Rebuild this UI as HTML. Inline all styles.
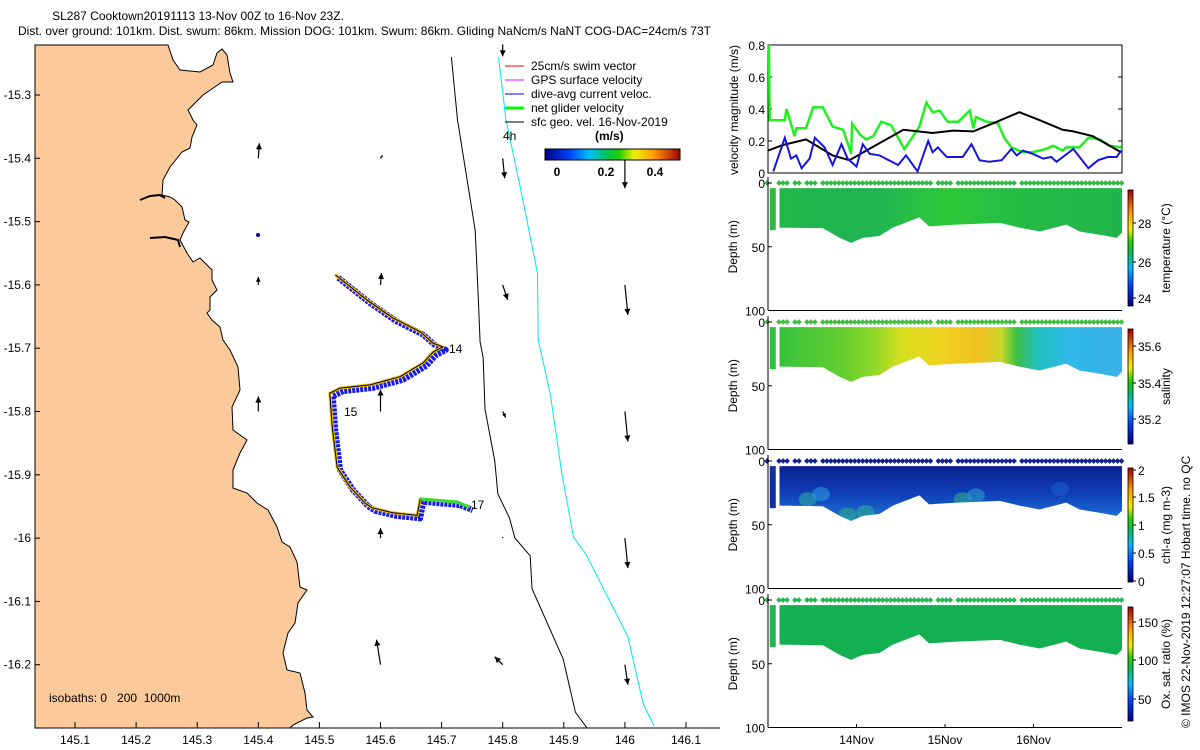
<!DOCTYPE html>
<html><head><meta charset="utf-8"><style>
html,body{margin:0;padding:0;background:#fff;overflow:hidden;width:1200px;height:750px;}
svg{display:block;font-family:"Liberation Sans",sans-serif;}
text{fill:#000;white-space:pre;}
</style></head><body>
<svg id="fig" width="1200" height="750" viewBox="0 0 1200 750" xmlns="http://www.w3.org/2000/svg">
<defs>
<linearGradient id="jet" x1="0" y1="0" x2="1" y2="0">
<stop offset="0" stop-color="#000080"/><stop offset="0.18" stop-color="#0040FF"/><stop offset="0.33" stop-color="#00C0FF"/><stop offset="0.45" stop-color="#00C060"/><stop offset="0.55" stop-color="#20D000"/><stop offset="0.66" stop-color="#F0F000"/><stop offset="0.8" stop-color="#FFA000"/><stop offset="1" stop-color="#A00000"/>
</linearGradient>
<linearGradient id="jetv" x1="0" y1="1" x2="0" y2="0">
<stop offset="0" stop-color="#000080"/><stop offset="0.18" stop-color="#0040FF"/><stop offset="0.33" stop-color="#00C0FF"/><stop offset="0.45" stop-color="#00C060"/><stop offset="0.55" stop-color="#20D000"/><stop offset="0.66" stop-color="#F0F000"/><stop offset="0.8" stop-color="#FFA000"/><stop offset="1" stop-color="#A00000"/>
</linearGradient>
<linearGradient id="gTemp" x1="0" y1="0" x2="1" y2="0">
<stop offset="0" stop-color="#22B848"/><stop offset="0.3" stop-color="#20B454"/><stop offset="0.5" stop-color="#30C838"/><stop offset="0.7" stop-color="#24BC44"/><stop offset="1" stop-color="#22B44C"/>
</linearGradient>
<linearGradient id="gSal" x1="0" y1="0" x2="1" y2="0">
<stop offset="0" stop-color="#30C040"/><stop offset="0.2" stop-color="#60CC30"/><stop offset="0.3" stop-color="#90D828"/><stop offset="0.38" stop-color="#D8E020"/><stop offset="0.5" stop-color="#F0D020"/><stop offset="0.6" stop-color="#F0C020"/><stop offset="0.66" stop-color="#C8D828"/><stop offset="0.7" stop-color="#40C040"/><stop offset="0.76" stop-color="#20C0C0"/><stop offset="0.85" stop-color="#30B8E8"/><stop offset="1" stop-color="#38B0E8"/>
</linearGradient>
<linearGradient id="gChl" x1="0" y1="0" x2="0" y2="1">
<stop offset="0" stop-color="#0A1E90"/><stop offset="0.5" stop-color="#1040B8"/><stop offset="1" stop-color="#2080E0"/>
</linearGradient>
<clipPath id="clipTemp"><path id="cpT"/></clipPath>
<clipPath id="clipSal"><path id="cpS"/></clipPath>
<clipPath id="clipChl"><path id="cpC"/></clipPath>
<clipPath id="clipOx"><path id="cpO"/></clipPath>
</defs>

<text x="198" y="20" font-size="12" text-anchor="middle">SL287 Cooktown20191113 13-Nov 00Z to 16-Nov 23Z.</text>
<text x="18" y="35" font-size="12">Dist. over ground: 101km. Dist. swum: 86km. Mission DOG: 101km. Swum: 86km. Gliding NaNcm/s NaNT COG-DAC=24cm/s 73T</text>

<g id="map">
<path fill="#FCCA9A" stroke="#000" stroke-width="1" d="M35,45 L168,45 L173,60 L180,70 L200,72 L213,65 L217,53 L222,49 L227,55 L230,73 L233,82 L222,82 L203,95 L188,110 L193,120 L197,125 L192,137 L190,148 L182,152 L170,167 L163,180 L162,195 L170,197 L175,200 L182,207 L185,220 L189,222 L183,233 L180,240 L187,253 L193,262 L200,258 L212,270 L212,280 L217,290 L210,297 L210,310 L207,313 L212,320 L220,327 L223,340 L230,350 L238,367 L240,390 L232,407 L233,430 L247,440 L240,453 L233,470 L233,488 L247,493 L257,503 L268,510 L277,527 L282,542 L290,547 L297,562 L300,587 L307,590 L298,603 L295,623 L288,633 L283,653 L287,670 L300,673 L305,693 L307,710 L313,717 L307,718 L293,725 L290,728 L35,728 Z"/>
<path d="M140,200 L150,196 L160,195 L165,198" stroke="#000" stroke-width="2" fill="none"/>
<path d="M150,238 L165,237 L178,240 L180,247" stroke="#000" stroke-width="2" fill="none"/>
<g id="isobaths"></g>
<g id="geoArrows"></g>
<g id="track"></g>
<text x="449" y="353" font-size="12">14</text>
<text x="344" y="416" font-size="12">15</text>
<text x="471" y="509" font-size="12">17</text>
<g id="mapAxes"></g>
<text x="49" y="702" font-size="12" xml:space="preserve">isobaths: 0   200  1000m</text>
<g font-size="12">
<line x1="505" y1="66" x2="524" y2="66" stroke="#f00"/><text x="531" y="70">25cm/s swim vector</text>
<line x1="505" y1="80" x2="524" y2="80" stroke="#f0f"/><text x="531" y="84">GPS surface velocity</text>
<line x1="505" y1="94" x2="524" y2="94" stroke="#00f"/><text x="531" y="98">dive-avg current veloc.</text>
<line x1="505" y1="108" x2="524" y2="108" stroke="#0f0" stroke-width="3"/><text x="531" y="112">net glider velocity</text>
<line x1="505" y1="122" x2="524" y2="122" stroke="#000"/><text x="531" y="126">sfc geo. vel. 16-Nov-2019</text>
<text x="503" y="140">4h</text>
<text x="595" y="140" font-weight="bold" font-size="12">(m/s)</text>
<rect x="545" y="149" width="135" height="11" fill="url(#jet)" stroke="#000" stroke-width="1"/>
<text x="557" y="176" font-weight="bold" text-anchor="middle">0</text>
<text x="606" y="176" font-weight="bold" text-anchor="middle">0.2</text>
<text x="655" y="176" font-weight="bold" text-anchor="middle">0.4</text>
</g>
</g>

<g id="vel"></g>
<g id="sections"></g>
<text font-size="12" transform="translate(1190,728) rotate(-90)">© IMOS 22-Nov-2019 12:27:07 Hobart time. no QC</text>
</svg>
<script>
const greenDays=[13.01,13.02,13.19,13.21,13.30,13.32,13.43,13.51,13.62,13.73,13.85,13.94,13.95,14.04,14.11,14.19,14.28,14.39,14.54,14.64,14.71,14.79,14.86,14.94,15.03,15.15,15.28,15.32,15.35,15.47,15.60,15.67,15.75,15.88,15.99,16.14,16.22,16.33,16.37,16.52,16.62,16.75,16.86,16.99];
const greenVals=[0.8,0.33,0.33,0.4,0.23,0.28,0.28,0.41,0.41,0.29,0.27,0.12,0.31,0.24,0.21,0.23,0.32,0.3,0.15,0.23,0.29,0.44,0.38,0.39,0.32,0.32,0.39,0.28,0.35,0.32,0.31,0.22,0.16,0.13,0.13,0.15,0.17,0.14,0.16,0.16,0.22,0.21,0.17,0.16];
const blueDays=[13.06,13.19,13.26,13.32,13.38,13.47,13.53,13.64,13.73,13.83,13.90,14.00,14.07,14.15,14.26,14.47,14.56,14.69,14.81,14.86,14.92,15.02,15.20,15.30,15.39,15.50,15.64,15.75,15.81,15.88,15.99,16.11,16.20,16.26,16.45,16.62,16.73,16.84,16.94,16.99];
const blueVals=[0.01,0.22,0.09,0.11,0.03,0.09,0.22,0.16,0.05,0.18,0.09,0.04,0.18,0.12,0.11,0.05,0.11,0.01,0.2,0.13,0.16,0.1,0.1,0.18,0.08,0.07,0.08,0.15,0.11,0.14,0.12,0.09,0.1,0.07,0.15,0.03,0.08,0.1,0.1,0.14];
const blackDays=[13.00,13.17,13.43,13.73,13.92,14.19,14.53,14.86,15.09,15.32,15.54,15.84,16.07,16.33,16.45,16.67,16.99];
const blackVals=[0.14,0.175,0.21,0.11,0.08,0.165,0.27,0.25,0.265,0.26,0.31,0.38,0.33,0.27,0.26,0.23,0.13];
const velTicks=[0,0.2,0.4,0.6,0.8];
const dayTicks=[14,15,16];
const dayTickLabels=["14Nov","15Nov","16Nov"];
const bottomDays=[13.13,13.62,13.81,13.94,14.07,14.26,14.41,14.71,14.82,15.13,15.62,15.84,16.07,16.37,16.52,16.78,16.94,17.0];
const bottomDepth=[35,35.5,43,47,43,41.6,35,27,34,32.6,31.3,35,38,32.6,38,41,43,39];
const depthTicks=[0,50,100];
const trackLon=[145.526,145.578,145.620,145.665,145.686,145.702,145.686,145.670,145.632,145.583,145.534,145.517,145.521,145.529,145.550,145.575,145.586,145.620,145.660,145.665,145.725,145.746];
const trackLat=[-15.584,-15.624,-15.652,-15.674,-15.692,-15.698,-15.706,-15.723,-15.745,-15.758,-15.763,-15.771,-15.824,-15.888,-15.919,-15.945,-15.952,-15.960,-15.964,-15.938,-15.943,-15.951];
const geoLon=[145.4,145.6,145.8,146.0,145.4,145.6,145.8,146.0,145.4,145.6,145.8,146.0,145.6,145.8,146.0,145.6,145.8,146.0,145.8];
const geoLat=[-15.4,-15.4,-15.4,-15.4,-15.6,-15.6,-15.6,-15.6,-15.8,-15.8,-15.8,-15.8,-16.0,-16.0,-16.0,-16.2,-16.2,-16.2,-15.22];
const geoU=[0.01,0.02,0.02,0,0,0.01,0.05,0.03,0,0,0.03,0.03,0,0,0.03,-0.04,-0.08,0.03,0];
const geoV=[0.15,0.03,-0.2,-0.3,0.08,0.12,-0.15,-0.3,0.15,0.22,-0.06,-0.3,0.1,0.01,-0.3,0.25,0.08,-0.2,-0.12];
const iso200Lon=[145.716,145.726,145.755,145.760,145.763,145.768,145.771,145.787,145.792,145.811,145.820,145.845,145.848,145.899,145.919,145.938];
const iso200Lat=[-15.24,-15.339,-15.514,-15.620,-15.690,-15.715,-15.796,-15.878,-15.930,-15.968,-16.000,-16.028,-16.080,-16.191,-16.275,-16.300];
const iso1000Lon=[145.793,145.800,145.805,145.832,145.857,145.858,145.878,145.897,145.916,145.936,146.005,146.030,146.048];
const iso1000Lat=[-15.240,-15.295,-15.337,-15.461,-15.582,-15.686,-15.773,-15.899,-15.999,-16.025,-16.156,-16.262,-16.297];
const lonTicks=[145.1,145.2,145.3,145.4,145.5,145.6,145.7,145.8,145.9,146,146.1];
const latTicks=[-15.3,-15.4,-15.5,-15.6,-15.7,-15.8,-15.9,-16,-16.1,-16.2];

const NS="http://www.w3.org/2000/svg";
const lonX=lon=>75+(lon-145.1)*611;
const latY=lat=>95+(-15.3-lat)*633;
const dayX=d=>768+(d-13)*88.5;
const velY=v=>173-v*160;
function mk(tag,attrs,parent){const e=document.createElementNS(NS,tag);for(const k in attrs)e.setAttribute(k,attrs[k]);parent.appendChild(e);return e;}

const iso=document.getElementById('isobaths');
let p1=mk('polyline',{points:iso200Lon.map((l,i)=>lonX(l)+','+latY(iso200Lat[i])).join(' '),fill:'none',stroke:'#000','stroke-width':1},iso);


let p2=mk('polyline',{points:iso1000Lon.map((l,i)=>lonX(l)+','+latY(iso1000Lat[i])).join(' '),fill:'none',stroke:'#00E5EE','stroke-width':1},iso);



const ga=document.getElementById('geoArrows');
geoLon.forEach((lon,i)=>{
  const x0=lonX(lon),y0=latY(geoLat[i]);const x1=x0+geoU[i]*100,y1=y0-geoV[i]*100;
  const g=mk('g',{},ga);
  
  
  mk('line',{x1:x0,y1:y0,x2:x1,y2:y1,stroke:'#000','stroke-width':1.2},g);
  const dx=x1-x0,dy=y1-y0,L=Math.hypot(dx,dy)||1,ux=dx/L,uy=dy/L,h=Math.min(6,L*0.6);
  mk('polygon',{points:`${x1},${y1} ${x1-ux*h-uy*h*0.5},${y1-uy*h+ux*h*0.5} ${x1-ux*h+uy*h*0.5},${y1-uy*h-ux*h*0.5}`,fill:'#000'},g);
});
const bd=mk('circle',{cx:258,cy:235,r:2,fill:'#00008F'},ga);



const tr=document.getElementById('track');
const tpts=trackLon.map((l,i)=>lonX(l)+','+latY(trackLat[i])).join(' ');
let tb=mk('polyline',{points:tpts,fill:'none',stroke:'#1818F0','stroke-width':6,'stroke-linejoin':'round','stroke-dasharray':'3 1',transform:'translate(3,3)'},tr);


let ty=mk('polyline',{points:tpts,fill:'none',stroke:'#F0C000','stroke-width':3,'stroke-linejoin':'round'},tr);


let tk=mk('polyline',{points:tpts,fill:'none',stroke:'#000','stroke-width':1},tr);


let tg=mk('polyline',{points:trackLon.slice(-3).map((l,i)=>lonX(l)+','+latY(trackLat[trackLat.length-3+i])).join(' '),fill:'none',stroke:'#30E030','stroke-width':3},tr);



const ma=document.getElementById('mapAxes');
mk('line',{x1:35,y1:728,x2:720,y2:728,stroke:'#000'},ma);
lonTicks.forEach(l=>{const x=lonX(l);mk('line',{x1:x,y1:728,x2:x,y2:722,stroke:'#000'},ma);
  const t=mk('text',{x:x,y:744,'font-size':12,'text-anchor':'middle'},ma);t.textContent=String(l);
  
  });
latTicks.forEach(l=>{const y=latY(l);mk('line',{x1:35,y1:y,x2:40,y2:y,stroke:'#000'},ma);
  const t=mk('text',{x:31,y:y+4,'font-size':12,'text-anchor':'end'},ma);t.textContent=String(l);
  
  });

const vel=document.getElementById('vel');
mk('rect',{x:768,y:45,width:354,height:128,fill:'none',stroke:'#000'},vel);
velTicks.forEach(v=>{const y=velY(v);mk('line',{x1:768,y1:y,x2:772,y2:y,stroke:'#000'},vel);mk('line',{x1:1122,y1:y,x2:1118,y2:y,stroke:'#000'},vel);
  const t=mk('text',{x:765,y:y+5,'font-size':12,'text-anchor':'end'},vel);t.textContent=v===0?'0':v.toFixed(1);
  
  });
function stepLine(days,vals,color,w,name,step){
  let pts=[];days.forEach((d,i)=>{if(step&&i>0)pts.push(dayX(d)+','+velY(vals[i-1]));pts.push(dayX(d)+','+velY(vals[i]));});
  const e=mk('polyline',{points:pts.join(' '),fill:'none',stroke:color,'stroke-width':w},vel);
  
  
}
stepLine(greenDays,greenVals,'#22EE22',2.5,'net-glider-velocity-line',false);
stepLine(blackDays,blackVals,'#000',2,'geostrophic-velocity-line',false);
stepLine(blueDays,blueVals,'#1515E0',2,'dive-avg-current-line',false);
const vl=mk('text',{'font-size':12,'text-anchor':'middle',transform:'translate(738,110) rotate(-90)'},vel);
vl.textContent='velocity magnitude (m/s)';



const sec=document.getElementById('sections');
const panels=[
 {top:183,fill:'url(#gTemp)',dot:'#30B840',clip:'cpT',cid:'clipTemp',name:'temperature',label:'temperature (°C)',cb:[190,306],ticks:[[28,223],[26,262],[24,298]]},
 {top:322,fill:'url(#gSal)',dot:'#40C040',clip:'cpS',cid:'clipSal',name:'salinity',label:'salinity',cb:[329,444],ticks:[[35.6,346],[35.4,383],[35.2,419]]},
 {top:461,fill:'url(#gChl)',dot:'#102090',clip:'cpC',cid:'clipChl',name:'chlorophyll',label:'chl-a (mg m-3)',cb:[468,582],ticks:[[2,470],[1.5,497],[1,525],[0.5,553],[0,581]]},
 {top:600,fill:'#12B050',dot:'#20B850',clip:'cpO',cid:'clipOx',name:'oxygen',label:'Ox. sat. ratio (%)',cb:[607,721],ticks:[[150,622],[100,660],[50,699]]}
];
const dotGaps=[[13.02,13.12],[13.23,13.28],[13.38,13.43],[13.55,13.62],[14.84,14.9],[15.08,15.12],[15.33,15.37],[15.79,15.85],[16.73,16.77]];
panels.forEach(P=>{
  const dY=dep=>P.top+dep*1.275;
  const g=mk('g',{},sec);
  
  
  let d=`M${dayX(bottomDays[0])},${dY(4)} L${dayX(17)},${dY(4)}`;
  for(let i=bottomDays.length-1;i>=0;i--)d+=` L${dayX(bottomDays[i])},${dY(bottomDepth[i])}`;
  d+=' Z';
  document.getElementById(P.clip).setAttribute('d',d);
  const r=mk('rect',{x:768,y:dY(3),width:354,height:60,fill:P.fill,'clip-path':`url(#${P.cid})`},g);
  
  
  if(P.name==='chlorophyll'){
    const cg=mk('g',{'clip-path':`url(#${P.cid})`},g);
    [[13.45,30,'#30B0A0'],[13.6,26,'#30A0E0'],[13.9,42,'#30B080'],[14.1,40,'#30B090'],[15.2,30,'#30B080'],[15.35,27,'#30A0D0'],[16.3,22,'#1860D0']].forEach(c=>{
      mk('ellipse',{cx:dayX(c[0]),cy:dY(c[1]),rx:9,ry:7,fill:c[2],opacity:0.55},cg);});
  }
  const fc=mk('rect',{x:dayX(13.02),y:dY(4),width:6,height:dY(37)-dY(4),fill:P.name==='chlorophyll'?'#1030A0':(P.name==='salinity'?'#30C040':P.dot)},g);
  
  
  for(let dd=12.99;dd<17.0;dd+=0.045){
    if(dotGaps.some(gp=>dd>gp[0]&&dd<gp[1]))continue;
    mk('rect',{x:dayX(dd)-2,y:P.top-2,width:4,height:4,fill:P.dot,transform:`rotate(45 ${dayX(dd)} ${P.top})`},g);
  }
  mk('line',{x1:768,y1:P.top-6,x2:768,y2:dY(100),stroke:'#000'},g);
  mk('line',{x1:768,y1:dY(100),x2:1122,y2:dY(100),stroke:'#000'},g);
  depthTicks.forEach(t=>{const y=dY(t);mk('line',{x1:768,y1:y,x2:772,y2:y,stroke:'#000'},g);
    const tx=mk('text',{x:765,y:y+5,'font-size':12,'text-anchor':'end'},g);tx.textContent=String(t);
    
    });
  const yl=mk('text',{'font-size':12,'text-anchor':'middle',transform:`translate(737,${dY(50)}) rotate(-90)`},g);
  yl.textContent='Depth (m)';
  
  
  const cb=mk('rect',{x:1128,y:P.cb[0],width:5,height:P.cb[1]-P.cb[0],fill:'url(#jetv)',stroke:'#000','stroke-width':0.8},g);
  
  
  P.ticks.forEach(t=>{mk('line',{x1:1133,y1:t[1],x2:1136,y2:t[1],stroke:'#000'},g);
    const tx=mk('text',{x:1138,y:t[1]+5,'font-size':12},g);tx.textContent=String(t[0]);
    
    });
  const cl=mk('text',{'font-size':12,'text-anchor':'middle',transform:`translate(1170,${(P.cb[0]+P.cb[1])/2}) rotate(-90)`},g);
  cl.textContent=P.label;
  
  
});
dayTicks.forEach((d,i)=>{const x=dayX(d);mk('line',{x1:x,y1:728,x2:x,y2:724,stroke:'#000'},sec);
  const t=mk('text',{x:x,y:744,'font-size':12,'text-anchor':'middle'},sec);t.textContent=dayTickLabels[i];
  
  });
</script>
</body></html>
